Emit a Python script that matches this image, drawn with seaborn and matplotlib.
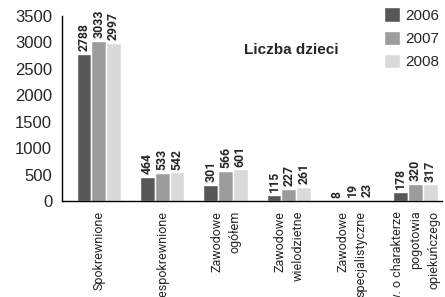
import pandas as pd
import numpy as np
import seaborn as sns
import matplotlib.pyplot as plt

# -------------------------
# dane
# -------------------------
kategorie = ['Spokrewnione', 'Niespokrewnione', 'Zawodowe\nogółem', 'Zawodowe\nwielodzietne',
             'Zawodowe\nspecjalistyczne', 'Zaw. o charakterze\npogotowia\nopiekuńczego']
lata = ['2006', '2007', '2008']
w_2006 = [2788, 464, 301, 115, 8, 178]
w_2007 = [3033, 533, 566, 227, 19, 320]
w_2008 = [2997, 542, 601, 261, 23, 317]
kolory = ['#575757', '#9c9c9c', '#dadada']

df = pd.DataFrame({
    'kategoria': kategorie * 3,
    'rok': [r for r in lata for _ in kategorie],
    'liczba': w_2006 + w_2007 + w_2008,
})

# -------------------------
# wykres
# -------------------------
sns.set_theme(style='white')
plt.rcParams['font.family'] = ['Liberation Sans', 'DejaVu Sans']
narrow = ['Roboto', 'DejaVu Sans']

fig = plt.figure(figsize=(4.45, 2.97), dpi=100)
ax = fig.add_axes([0.139, 0.323, 0.854, 0.623])

sns.barplot(data=df, x='kategoria', y='liczba', hue='rok', palette=kolory,
            width=0.7, saturation=1, ax=ax, legend=True)

for cont in ax.containers:
    ax.bar_label(cont, rotation=90, padding=2, fontsize=8.8, fontweight='bold',
                 family=narrow)

ax.set_ylim(0, 3500)
ax.set_yticks(np.arange(0, 3501, 500))
ax.set_xlim(-0.584, 5.416)
ax.set_xticks(np.arange(6))
ax.set_xticklabels(kategorie, rotation=90, fontsize=9, family=narrow,
                   va='top', ha='center', multialignment='right', linespacing=1.5)
ax.set_xticks(np.arange(7) - 0.584, minor=True)
ax.tick_params(axis='x', which='major', length=0, pad=7)
ax.tick_params(axis='x', which='minor', length=5, width=1, direction='out', color='black')
ax.tick_params(axis='y', length=5, width=1, direction='out', color='black', labelsize=12, pad=2)
ax.set_xlabel('')
ax.set_ylabel('')
sns.despine(ax=ax)
for s in ['left', 'bottom']:
    ax.spines[s].set_color('black')
    ax.spines[s].set_linewidth(1)

handles, labels = ax.get_legend_handles_labels()
ax.legend(handles, labels, loc='upper left', bbox_to_anchor=(0.862, 0.975),
          bbox_transform=fig.transFigure, frameon=False, fontsize=11,
          borderpad=0, borderaxespad=0,
          handlelength=1.1, handleheight=1.1, handletextpad=0.35, labelspacing=0.5)

fig.text(0.654, 0.832, 'Liczba dzieci', ha='center', va='center',
         fontsize=11, fontweight='bold')

plt.savefig('out.png', dpi=100)
